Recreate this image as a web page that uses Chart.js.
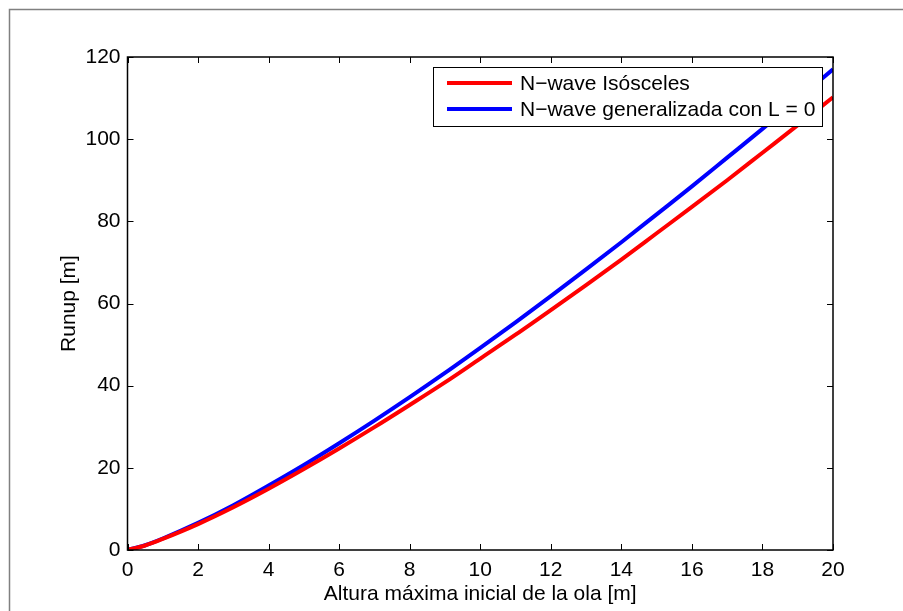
<!DOCTYPE html>
<html>
<head>
<meta charset="utf-8">
<script src="https://cdn.jsdelivr.net/npm/chart.js@4/dist/chart.umd.min.js"></script>
<style>
  html, body { margin: 0; padding: 0; background: #ffffff; }
  #wrap { width: 903px; height: 611px; }
</style>
</head>
<body>
<div id="wrap"><canvas id="c" width="903" height="611"></canvas></div>
<script>
// ---- data ----
const waveHeight = [0, 0.5, 1, 2, 3, 4, 5, 6, 7, 8, 9, 10, 11, 12, 13, 14, 15, 16, 17, 18, 19, 20];
const runupIsosceles = [0, 1.1, 2.7, 6.3, 10.4, 14.9, 19.7, 24.7, 29.9, 35.3, 40.8, 46.6, 52.4, 58.4, 64.5, 70.7, 77.1, 83.5, 90.0, 96.7, 103.4, 110.2];
const runupGeneralizada = [0, 1.15, 2.8, 6.6, 10.9, 15.7, 20.7, 26.0, 31.5, 37.2, 43.1, 49.2, 55.4, 61.8, 68.3, 74.9, 81.7, 88.5, 95.5, 102.5, 109.7, 117.0];
const xTicks = [0, 2, 4, 6, 8, 10, 12, 14, 16, 18, 20];
const yTicks = [0, 20, 40, 60, 80, 100, 120];
const seriesLabels = ['N\u2212wave Is\u00f3sceles', 'N\u2212wave generalizada con L = 0'];
const xTitle = 'Altura m\u00e1xima inicial de la ola [m]';
const yTitle = 'Runup [m]';

const FONT = 'Liberation Sans, Arial, Helvetica, sans-serif';
const FS = 21;

function pts(ys) { return waveHeight.map((x, i) => ({ x: x, y: ys[i] })); }

const decor = {
  id: 'decor',
  beforeDraw(chart) {
    const ctx = chart.ctx;
    ctx.save();
    ctx.fillStyle = '#ffffff';
    ctx.fillRect(0, 0, chart.width, chart.height);
    ctx.strokeStyle = '#808080';
    ctx.lineWidth = 1.5;
    ctx.strokeRect(9.5, 9.5, 1200, 1200);
    ctx.restore();
  },
  afterDraw(chart) {
    const ctx = chart.ctx;
    const a = chart.chartArea;
    const xs = chart.scales.x, ys = chart.scales.y;
    ctx.save();
    // inward ticks on all four sides
    ctx.strokeStyle = '#000000';
    ctx.lineWidth = 1;
    const TL = 6;
    ctx.beginPath();
    xs.ticks.forEach((t) => {
      const px = Math.round(xs.getPixelForValue(t.value)) + 0.5;
      ctx.moveTo(px, a.bottom); ctx.lineTo(px, a.bottom - TL);
      ctx.moveTo(px, a.top); ctx.lineTo(px, a.top + TL);
    });
    ys.ticks.forEach((t) => {
      const py = Math.round(ys.getPixelForValue(t.value)) + 0.5;
      ctx.moveTo(a.left, py); ctx.lineTo(a.left + TL, py);
      ctx.moveTo(a.right, py); ctx.lineTo(a.right - TL, py);
    });
    ctx.stroke();
    // axes box
    ctx.lineWidth = 1.5;
    ctx.strokeRect(a.left, a.top, a.right - a.left, a.bottom - a.top);

    // legend box
    const lx = 433.5, ly = 67.5, lw = 389, lh = 59;
    ctx.fillStyle = '#ffffff';
    ctx.fillRect(lx, ly, lw, lh);
    ctx.lineWidth = 1;
    ctx.strokeStyle = '#000000';
    ctx.strokeRect(lx, ly, lw, lh);
    const rows = [83, 109];
    chart.data.datasets.forEach((ds, i) => {
      ctx.strokeStyle = ds.borderColor;
      ctx.lineWidth = 4;
      ctx.beginPath();
      ctx.moveTo(447, rows[i]);
      ctx.lineTo(512, rows[i]);
      ctx.stroke();
      ctx.fillStyle = '#000000';
      ctx.font = FS + 'px ' + FONT;
      ctx.textBaseline = 'middle';
      ctx.textAlign = 'left';
      ctx.fillText(ds.label, 520, rows[i] + 1);
    });
    ctx.restore();
  }
};

new Chart(document.getElementById('c'), {
  type: 'line',
  data: {
    datasets: [
      { label: seriesLabels[0], data: pts(runupIsosceles), borderColor: '#ff0000', borderWidth: 4, pointRadius: 0, cubicInterpolationMode: 'monotone', fill: false },
      { label: seriesLabels[1], data: pts(runupGeneralizada), borderColor: '#0000ff', borderWidth: 4, pointRadius: 0, cubicInterpolationMode: 'monotone', fill: false }
    ]
  },
  options: {
    responsive: false,
    animation: false,
    devicePixelRatio: 1,
    layout: { padding: { top: 57, right: 70, bottom: 0, left: 0 } },
    plugins: { legend: { display: false }, tooltip: { enabled: false } },
    scales: {
      x: {
        type: 'linear', min: 0, max: 20,
        afterBuildTicks: s => { s.ticks = xTicks.map(v => ({ value: v })); },
        ticks: { color: '#000000', font: { family: FONT, size: FS }, padding: 8, maxRotation: 0, autoSkip: false },
        grid: { display: false, drawTicks: false },
        border: { display: false },
        title: { display: true, text: xTitle, color: '#000000', font: { family: FONT, size: FS }, padding: { bottom: 4 } },
        afterFit: s => { s.height = 61; }
      },
      y: {
        type: 'linear', min: 0, max: 120,
        afterBuildTicks: s => { s.ticks = yTicks.map(v => ({ value: v })); },
        ticks: { color: '#000000', font: { family: FONT, size: FS }, padding: 7, autoSkip: false },
        grid: { display: false, drawTicks: false },
        border: { display: false },
        title: { display: true, text: yTitle, color: '#000000', font: { family: FONT, size: FS }, padding: { top: 57 } },
        afterFit: s => { s.width = 127.5; }
      }
    }
  },
  plugins: [decor]
});
</script>
</body>
</html>
